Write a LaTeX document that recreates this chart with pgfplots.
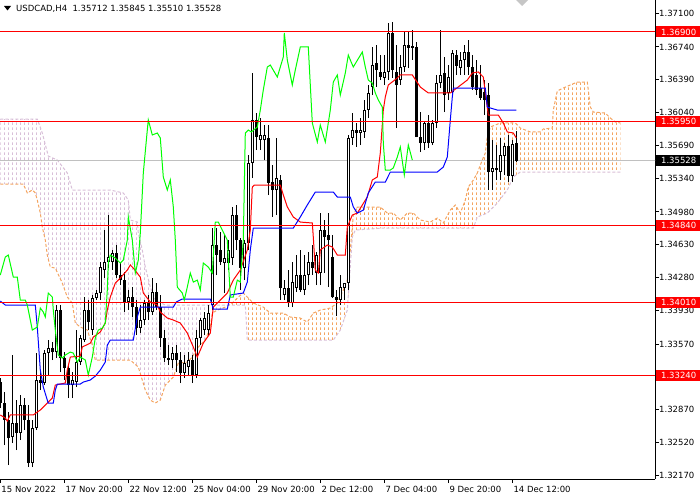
\documentclass[border=0pt]{standalone}
\usepackage{fontspec}
\setmainfont{DejaVu Sans}
\usepackage{pgfplots}
\pgfplotsset{compat=1.18}
\usepackage{pgfplotstable}
\usepgfplotslibrary{fillbetween}
\usetikzlibrary{patterns}
\definecolor{sandyb}{RGB}{244,164,96}
\definecolor{thistlec}{RGB}{216,191,216}
\definecolor{limec}{RGB}{0,255,0}
\definecolor{silverc}{RGB}{192,192,192}
\pgfdeclarepatternformonly{vdash}{\pgfqpoint{0pt}{0pt}}{\pgfqpoint{4pt}{5pt}}{\pgfqpoint{4pt}{5pt}}{%
  \pgfsetlinewidth{1pt}%
  \pgfpathmoveto{\pgfqpoint{0.5pt}{0pt}}%
  \pgfpathlineto{\pgfqpoint{0.5pt}{3pt}}%
  \pgfusepath{stroke}%
}
\pgfplotstableread{
j o h l c
0 1.33165 1.33208 1.32888 1.32941
1 1.32941 1.33058 1.32493 1.32760
2 1.32760 1.32845 1.32279 1.32568
3 1.32578 1.33453 1.32514 1.32728
4 1.32728 1.32973 1.32439 1.32621
5 1.32621 1.33026 1.32546 1.32920
6 1.32920 1.32994 1.32653 1.32760
7 1.32760 1.32920 1.32258 1.32301
8 1.32301 1.32760 1.32258 1.32674
9 1.32674 1.33474 1.32653 1.33186
10 1.33186 1.33272 1.33080 1.33154
11 1.33154 1.33506 1.33133 1.33474
12 1.33474 1.33613 1.33240 1.33528
13 1.33528 1.33592 1.33400 1.33485
14 1.33485 1.33987 1.33421 1.33933
15 1.33933 1.33987 1.33272 1.33421
16 1.33421 1.33485 1.33186 1.33314
17 1.33314 1.33346 1.32994 1.33133
18 1.33133 1.33272 1.32994 1.33186
19 1.33165 1.33720 1.33112 1.33378
20 1.33378 1.33667 1.33346 1.33635
21 1.33613 1.34072 1.33592 1.33933
22 1.33933 1.34040 1.33720 1.33805
23 1.33720 1.34093 1.33667 1.34061
24 1.34061 1.34147 1.34040 1.34115
25 1.34115 1.34445 1.34040 1.34392
26 1.34360 1.34787 1.34275 1.34445
27 1.34445 1.34947 1.34381 1.34499
28 1.34445 1.34573 1.34360 1.34541
29 1.34541 1.34627 1.34275 1.34307
30 1.34307 1.34445 1.34200 1.34253
31 1.34253 1.34339 1.33912 1.34019
32 1.34019 1.34147 1.33933 1.34072
33 1.34072 1.34179 1.33859 1.33965
34 1.33965 1.34040 1.33667 1.33741
35 1.33741 1.33987 1.33688 1.33827
36 1.33827 1.34040 1.33773 1.34008
37 1.34008 1.34093 1.33827 1.33912
38 1.33912 1.34275 1.33880 1.34125
39 1.34125 1.34221 1.33933 1.33965
40 1.33965 1.34093 1.33539 1.33635
41 1.33635 1.33720 1.33378 1.33421
42 1.33421 1.33560 1.33346 1.33400
43 1.33400 1.33539 1.33314 1.33474
44 1.33474 1.33560 1.33272 1.33400
45 1.33400 1.33485 1.33154 1.33261
46 1.33261 1.33453 1.33208 1.33368
47 1.33325 1.33485 1.33240 1.33400
48 1.33400 1.33453 1.33154 1.33240
49 1.33240 1.33720 1.33208 1.33635
50 1.33635 1.33848 1.33560 1.33827
51 1.33720 1.33912 1.33667 1.33848
52 1.33720 1.33987 1.33667 1.33901
53 1.33987 1.34808 1.33933 1.34627
54 1.34627 1.34808 1.34307 1.34520
55 1.34573 1.34766 1.34413 1.34445
56 1.34435 1.34734 1.34115 1.34488
57 1.34435 1.34680 1.34360 1.34573
58 1.34488 1.35032 1.34413 1.34947
59 1.34947 1.35054 1.34573 1.34680
60 1.34680 1.34702 1.34147 1.34381
61 1.34381 1.34680 1.34253 1.34648
62 1.34648 1.35587 1.34573 1.35502
63 1.35502 1.36462 1.35342 1.35961
64 1.35961 1.36035 1.35640 1.35779
65 1.35747 1.35982 1.35640 1.35801
66 1.35747 1.35907 1.35534 1.35801
67 1.35769 1.35907 1.35160 1.35288
68 1.35299 1.35480 1.34926 1.35214
69 1.35214 1.35769 1.34947 1.35342
70 1.35320 1.35374 1.34040 1.34168
71 1.34093 1.34253 1.34040 1.34168
72 1.34168 1.34360 1.33965 1.34008
73 1.34008 1.34445 1.33965 1.34232
74 1.34168 1.34520 1.34125 1.34307
75 1.34307 1.34573 1.34125 1.34147
76 1.34147 1.34520 1.34093 1.34307
77 1.34307 1.34552 1.34200 1.34445
78 1.34445 1.34627 1.34307 1.34381
79 1.34328 1.34552 1.34200 1.34520
80 1.34328 1.34968 1.34200 1.34787
81 1.34787 1.34894 1.34328 1.34712
82 1.34734 1.34968 1.34179 1.34680
83 1.34499 1.34734 1.34061 1.34072
84 1.34072 1.34147 1.33869 1.34040
85 1.34040 1.34307 1.33987 1.34179
86 1.34168 1.34221 1.34040 1.34221
87 1.34221 1.35801 1.34147 1.35769
88 1.35769 1.36035 1.35694 1.35854
89 1.35854 1.35929 1.35673 1.35822
90 1.35822 1.35982 1.35694 1.35854
91 1.35833 1.36174 1.35769 1.36067
92 1.36067 1.36334 1.35982 1.36249
93 1.36313 1.36740 1.36227 1.36547
94 1.36569 1.36761 1.36313 1.36494
95 1.36473 1.36654 1.36387 1.36419
96 1.36409 1.36654 1.36334 1.36473
97 1.36473 1.36996 1.36387 1.36889
98 1.36889 1.37006 1.36409 1.36494
99 1.36473 1.36761 1.35875 1.36334
100 1.36387 1.36654 1.36334 1.36526
101 1.36526 1.36900 1.36473 1.36761
102 1.36761 1.36900 1.36515 1.36729
103 1.36750 1.36921 1.36601 1.36729
104 1.36740 1.36793 1.35779 1.35779
105 1.35779 1.36046 1.35619 1.35715
106 1.35715 1.35939 1.35640 1.35929
107 1.35929 1.36014 1.35662 1.35715
108 1.35715 1.35961 1.35694 1.35929
109 1.35929 1.36441 1.35875 1.36355
110 1.36355 1.36921 1.36302 1.36441
111 1.36462 1.36633 1.36046 1.36227
112 1.36249 1.36547 1.36174 1.36419
113 1.36259 1.36707 1.36206 1.36675
114 1.36654 1.36707 1.36441 1.36537
115 1.36515 1.36686 1.36441 1.36601
116 1.36601 1.36761 1.36441 1.36686
117 1.36686 1.36814 1.36441 1.36526
118 1.36526 1.36654 1.36281 1.36313
119 1.36441 1.36601 1.36227 1.36281
120 1.36302 1.36547 1.36174 1.36195
121 1.36259 1.36387 1.36014 1.36174
122 1.36227 1.36355 1.35214 1.35406
123 1.35406 1.35747 1.35214 1.35448
124 1.35448 1.35694 1.35320 1.35427
125 1.35406 1.35769 1.35320 1.35587
126 1.35576 1.35715 1.35374 1.35683
127 1.35683 1.35801 1.35299 1.35363
128 1.35363 1.35747 1.35299 1.35705
129 1.35712 1.35845 1.35510 1.35528
}\candles
\newcommand{\lbl}{\fontsize{8.5}{10}\selectfont}
\begin{document}
\begin{tikzpicture}
\begin{axis}[
  at={(0pt,21pt)}, anchor=south west,
  scale only axis, width=655pt, height=479pt,
  xmin=-0.075, xmax=163.675, ymin=1.32131, ymax=1.37241,
  axis x line*=bottom, axis y line*=right,
  axis line style={-, black, line width=1pt},
  tick align=outside, major tick length=4pt,
  tick style={black, line width=1pt},
  minor tick num=0,
  xtick={0,16,32,48,64,80,96,112,128},
  xticklabels={15 Nov 2022,17 Nov 20:00,22 Nov 12:00,25 Nov 04:00,29 Nov 20:00,2 Dec 12:00,7 Dec 04:00,9 Dec 20:00,14 Dec 12:00},
  ytick={1.371,1.3674,1.3639,1.3604,1.3569,1.3534,1.3498,1.3463,1.3428,1.3393,1.3357,1.3322,1.3287,1.3252,1.3217},
  yticklabels={1.37100,1.36740,1.36390,1.36040,1.35690,1.35340,1.34980,1.34630,1.34280,1.33930,1.33570,1.33220,1.32870,1.32520,1.32170},
  scaled ticks=false,
  tick label style={font=\lbl},
  xticklabel style={anchor=north west, inner sep=0pt, xshift=1pt, yshift=-3pt},
  yticklabel style={anchor=west, inner sep=0pt},
  clip mode=individual,
]
% --- Ichimoku cloud (Senkou Span A / B)
\addplot[sandyb, line width=1pt, dash pattern=on 3pt off 2pt, name path=A] coordinates {
(0,1.35278) (5.75,1.35278) (6.75,1.35182) (8,1.35214) (8.75,1.35182) (9.25,1.35107) (10,1.34968) (10.5,1.34819) (11.25,1.34680) (11.75,1.34520) (12.5,1.34392) (13.75,1.34381) (15.5,1.34221) (16.75,1.34072) (18,1.34008) (18.75,1.33795) (20,1.33752) (21.75,1.33720) (23,1.33560) (23.75,1.33400) (32.5,1.33400) (34.5,1.33325) (35.5,1.33186) (36.25,1.33080) (37.5,1.32973) (38.75,1.32941) (40,1.32973) (41.25,1.33133) (43.25,1.33219) (44.5,1.33368) (46.75,1.33378) (48,1.33432) (49.25,1.33528) (51.25,1.33613) (52.5,1.33752) (53,1.33901) (54.25,1.33933) (56.25,1.33965) (58,1.34008) (59.5,1.34072) (60.75,1.34115) (61.75,1.34072) (63.25,1.34008) (65.75,1.33965) (67.5,1.33901) (70.75,1.33901) (72.5,1.33859) (75,1.33848) (76.75,1.33805) (78.25,1.33901) (80,1.33933) (82.5,1.33955) (84.25,1.34008) (85.75,1.34147) (86.75,1.34253) (87.5,1.34573) (88.25,1.34947) (89.25,1.35032) (95,1.35032) (96.75,1.34968) (98.25,1.34968) (100,1.34894) (101.75,1.34968) (103.25,1.34968) (105,1.34894) (107.5,1.34872) (109.25,1.34915) (110.75,1.34862) (112.5,1.35000) (113.75,1.35054) (115,1.34968) (116.25,1.35107) (117,1.35246) (118.25,1.35320) (119.25,1.35395) (120.5,1.35534) (121.25,1.35609) (121.75,1.35779) (122.5,1.35886) (125,1.35929) (128.75,1.35929) (130,1.35875) (132.5,1.35833) (135,1.35833) (135.75,1.35865) (138,1.35875) (138.25,1.36067) (139.25,1.36270) (140.75,1.36302) (142.5,1.36334) (144.25,1.36366) (146.75,1.36366) (147.5,1.36099) (148.25,1.36046) (151.25,1.36035) (152.5,1.35982) (153.75,1.35939) (155,1.35929)
};
\addplot[thistlec, line width=1pt, dash pattern=on 3pt off 2pt, name path=B] coordinates {
(0,1.35971) (9.25,1.35971) (10.5,1.35822) (12,1.35576) (14.25,1.35534) (16.75,1.35395) (18,1.35214) (27.5,1.35214) (30.75,1.35182) (32,1.35107) (32.5,1.34894) (34.25,1.34872) (34.5,1.34755) (35.5,1.34573) (36.25,1.34392) (37.5,1.34179) (38.75,1.34040) (41.25,1.33987) (61.25,1.33987) (61.75,1.33613) (83.25,1.33613) (85,1.33720) (86.75,1.33933) (88,1.34712) (88.75,1.34787) (95.75,1.34808) (118.25,1.34808) (119.25,1.34926) (121.75,1.34968) (124.25,1.35075) (126.75,1.35214) (128.25,1.35353) (130,1.35406) (155,1.35406)
};
\addplot[pattern=vdash, pattern color=thistlec, draw=none] fill between[of=A and B, soft clip={(axis cs:0,1.30) rectangle (axis cs:57,1.40)}];
\addplot[pattern=vdash, pattern color=sandyb, draw=none] fill between[of=A and B, soft clip={(axis cs:57,1.30) rectangle (axis cs:155.3,1.40)}];
% --- current price line
\addplot[silverc, line width=1pt] coordinates {(-1,1.35528) (170,1.35528)};
% --- candles: wicks, bodies, hollow interiors
\addplot[draw=none, mark=none, error bars/.cd, y dir=plus, y explicit, error mark=none,
  error bar style={draw=black, line width=1pt}]
  table[x=j, y=l, y error plus expr={\thisrow{h}-\thisrow{l}}] {\candles};
\addplot[draw=none, mark=none, error bars/.cd, y dir=plus, y explicit, error mark=none,
  error bar style={draw=black, line width=3pt}]
  table[x=j, y expr={min(\thisrow{o},\thisrow{c})}, y error plus expr={max(abs(\thisrow{c}-\thisrow{o}),0.000107)}] {\candles};
\addplot[draw=none, mark=none, error bars/.cd, y dir=plus, y explicit, error mark=none,
  error bar style={draw=white, line width=1pt}]
  table[x=j, y expr={\thisrow{o}+0.000107}, y error plus expr={max(\thisrow{c}-\thisrow{o}-0.000214,0)}] {\candles};
% --- Tenkan-sen
\addplot[red, line width=1pt] coordinates {
(0,1.32814) (1.25,1.32781) (1.75,1.32749) (2.5,1.32814) (8.25,1.32814) (9.25,1.32845) (10,1.32867) (11.75,1.32941) (13,1.32995) (13.75,1.33133) (16.25,1.33155) (16.75,1.33293) (17.5,1.33432) (20,1.33442) (20.5,1.33539) (22.5,1.33581) (23.25,1.33645) (25,1.33699) (26.25,1.33795) (26.75,1.33933) (27.5,1.34072) (28.75,1.34221) (30,1.34275) (31.75,1.34360) (32.5,1.34414) (33.25,1.34381) (35,1.34285) (35.75,1.34115) (37.5,1.34019) (39.25,1.33987) (40,1.33912) (41.75,1.33848) (43.25,1.33827) (45,1.33795) (46.75,1.33688) (48.25,1.33539) (49.25,1.33432) (50,1.33506) (50.75,1.33581) (52.5,1.33688) (53.25,1.33965) (56.75,1.34115) (58.25,1.34253) (60,1.34360) (61.75,1.34574) (62.5,1.34787) (63,1.35246) (63.5,1.35267) (70,1.35267) (70.75,1.35161) (71.75,1.35034) (73.25,1.34926) (75,1.34872) (78,1.34862) (78.25,1.34712) (78.75,1.34360) (79.5,1.34328) (80,1.34574) (81.75,1.34627) (83,1.34606) (84.25,1.34520) (86.25,1.34520) (86.75,1.34819) (88,1.34947) (89.25,1.34968) (91.75,1.35139) (93,1.35321) (94.25,1.35353) (95,1.35609) (95.75,1.36067) (96.25,1.36206) (97,1.36334) (99.25,1.36409) (100,1.36441) (103,1.36441) (105,1.36313) (107,1.36249) (112.5,1.36249) (116.75,1.36387) (118,1.36462) (119.5,1.36473) (120.75,1.36419) (121.5,1.36174) (122,1.36014) (124.5,1.36014) (125.75,1.35929) (126.75,1.35833) (128.25,1.35822) (129,1.35769)
};
% --- Kijun-sen
\addplot[blue, line width=1pt] coordinates {
(0,1.34029) (1.25,1.33987) (8.75,1.33987) (9.25,1.33752) (10,1.33293) (10.75,1.33112) (11.75,1.32973) (12,1.32941) (13.25,1.32941) (13.75,1.33080) (14.25,1.33144) (20,1.33144) (20.75,1.33165) (22.5,1.33187) (23.75,1.33229) (25,1.33293) (26.25,1.33379) (26.75,1.33560) (27.5,1.33613) (33.25,1.33613) (34.25,1.33859) (35,1.33965) (43.25,1.33965) (44,1.34019) (45.5,1.34051) (52.5,1.34051) (53.25,1.33944) (56.75,1.33944) (57.5,1.34094) (60.75,1.34115) (61.75,1.34232) (62.5,1.34574) (63.25,1.34808) (73.25,1.34808) (75,1.34926) (76.75,1.35054) (78.75,1.35192) (83.25,1.35192) (84.25,1.35139) (87.5,1.35139) (88.25,1.35034) (89.25,1.34968) (90.75,1.35000) (92,1.35182) (93.75,1.35299) (96.25,1.35299) (97.5,1.35406) (109.25,1.35406) (110.75,1.35459) (111.75,1.35566) (112.5,1.35961) (113,1.36206) (113.25,1.36302) (121.25,1.36302) (121.75,1.36099) (122.5,1.36089) (124.25,1.36067) (129,1.36067)
};
% --- Chikou span
\addplot[limec, line width=1pt] coordinates {
(0,1.34307) (1.25,1.34499) (2,1.34520) (3.25,1.34285) (4.25,1.34285) (5,1.34040) (6.25,1.34040) (6.75,1.33987) (8,1.33720) (9.25,1.33752) (10,1.33955) (10.75,1.33912) (11.25,1.33859) (12,1.34115) (13,1.34072) (13.25,1.33933) (13.75,1.33720) (14.5,1.33453) (15.5,1.33421) (16.25,1.33453) (17.5,1.33485) (18.25,1.33474) (19.25,1.33379) (20,1.33432) (21.25,1.33400) (21.75,1.33293) (22,1.33240) (23,1.33432) (23.75,1.33635) (24.5,1.33720) (25.5,1.33741) (26.25,1.33795) (26.75,1.34147) (27,1.34435) (27.5,1.34520) (28.75,1.34488) (30,1.34435) (30.75,1.34467) (31.75,1.34680) (32,1.34926) (33,1.34680) (33.75,1.34328) (34.5,1.34467) (35,1.34755) (35.75,1.35395) (36.75,1.35854) (37,1.35961) (38,1.35801) (39.25,1.35822) (40,1.35769) (40.75,1.35353) (41.75,1.35214) (42.5,1.35321) (43.25,1.35034) (43.75,1.34680) (44.25,1.34178) (45.5,1.34115) (46,1.34040) (46.75,1.34178) (47.5,1.34328) (48.25,1.34232) (49.25,1.34253) (50,1.34147) (50.75,1.34435) (52,1.34392) (53,1.34328) (53.75,1.34872) (54.5,1.34872) (55.75,1.34766) (56.75,1.34680) (57.5,1.34072) (58.25,1.34072) (59.25,1.34253) (60,1.34232) (60.75,1.34680) (61.25,1.35822) (62,1.35854) (62.75,1.35833) (64.25,1.35886) (65,1.36067) (65.75,1.36281) (66.75,1.36526) (67.5,1.36547) (69.25,1.36419) (70.75,1.36633) (71,1.36889) (71.75,1.36601) (73,1.36334) (73.75,1.36494) (75,1.36740) (77,1.36740) (78,1.35929) (79.25,1.35726) (80,1.35907) (81.25,1.35726) (82.5,1.36067) (83.25,1.36366) (84.25,1.36441) (85,1.36227) (86.25,1.36462) (87,1.36654) (87.5,1.36601) (88.25,1.36526) (90.5,1.36686) (91.25,1.36526) (92,1.36387) (93,1.36355) (93.75,1.36249) (94.5,1.36174) (95.5,1.36099) (95.75,1.35715) (96.25,1.35427) (97.5,1.35427) (98.25,1.35449) (99.25,1.35566) (100,1.35673) (101,1.35374) (102,1.35694) (103,1.35534)
};
% --- horizontal levels
\addplot[red, line width=1pt] coordinates {(-1,1.3690) (170,1.3690)};
\addplot[red, line width=1pt] coordinates {(-1,1.3595) (170,1.3595)};
\addplot[red, line width=1pt] coordinates {(-1,1.3484) (170,1.3484)};
\addplot[red, line width=1pt] coordinates {(-1,1.3401) (170,1.3401)};
\addplot[red, line width=1pt] coordinates {(-1,1.3324) (170,1.3324)};
\coordinate (L1) at (axis cs:163.675,1.3690);
\coordinate (L2) at (axis cs:163.675,1.3595);
\coordinate (L3) at (axis cs:163.675,1.3484);
\coordinate (L4) at (axis cs:163.675,1.3401);
\coordinate (L5) at (axis cs:163.675,1.3324);
\coordinate (LP) at (axis cs:163.675,1.35528);
\end{axis}
\tikzset{lvl/.style={anchor=west, xshift=0.5pt, text=white, minimum width=46pt, minimum height=11pt, inner sep=0pt, font=\lbl}}
\node[lvl, fill=red] at (L1) {1.36900};
\node[lvl, fill=red] at (L2) {1.35950};
\node[lvl, fill=red] at (L3) {1.34840};
\node[lvl, fill=red] at (L4) {1.34010};
\node[lvl, fill=red] at (L5) {1.33240};
\node[lvl, fill=black] at (LP) {1.35528};
% title
\fill[black] (4pt,494pt) -- (11pt,494pt) -- (7.5pt,489.5pt) -- cycle;
\node[anchor=base west, inner sep=0pt, font=\lbl] at (16pt,488.5pt) {USDCAD,H4\ \ 1.35712 1.35845 1.35510 1.35528};
\fill[gray!45] (516pt,500pt) -- (528pt,500pt) -- (522pt,494pt) -- cycle;
\pgfresetboundingbox
\useasboundingbox (0,0) rectangle (700pt,500pt);
\end{tikzpicture}
\end{document}
